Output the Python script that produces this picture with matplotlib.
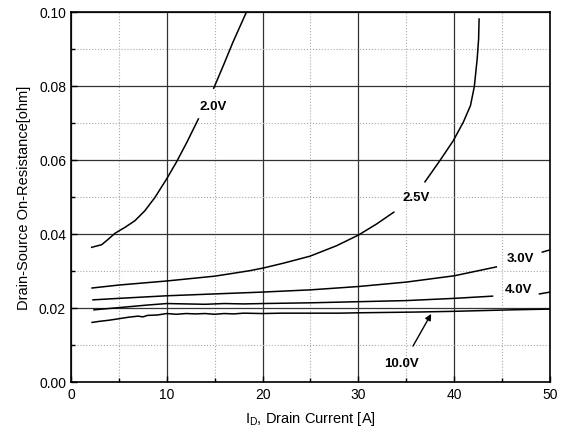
import matplotlib
matplotlib.use("Agg")
import matplotlib.pyplot as plt
from matplotlib.ticker import MultipleLocator, FormatStrFormatter

plt.rcParams['font.family'] = ['Liberation Sans', 'DejaVu Sans']

# 2.0V curve (two segments around the label)
v20_x1 = [2.16, 3.2, 3.9, 4.6, 5.64, 6.68, 7.72, 8.77, 9.99, 11.0, 12.1, 13.3]
v20_y1 = [0.0364, 0.0371, 0.0386, 0.0402, 0.0418, 0.0436, 0.0463, 0.0499, 0.0549, 0.0594, 0.0648, 0.0711]
v20_x2 = [14.9, 15.9, 16.9, 18.3]
v20_y2 = [0.0794, 0.0855, 0.0918, 0.0999]

# 2.5V curve
v25_x1 = [2.2, 5, 10, 15, 17, 18.7, 20.07, 22.16, 24.95, 27.7, 30.0, 31.9, 33.7]
v25_y1 = [0.0254, 0.0262, 0.0273, 0.0286, 0.0294, 0.0301, 0.0308, 0.0321, 0.0340, 0.0368, 0.0397, 0.0427, 0.0459]
v25_x2 = [36.95, 38.5, 39.9, 40.95, 41.7, 42.1, 42.4, 42.55, 42.6]
v25_y2 = [0.0541, 0.0598, 0.0652, 0.0702, 0.0747, 0.0798, 0.0873, 0.0927, 0.0981]

# 3.0V curve
v30_x1 = [2.3, 5, 10, 15, 20, 25, 30, 35, 40, 44.4]
v30_y1 = [0.0222, 0.0226, 0.0233, 0.0238, 0.0243, 0.0249, 0.0258, 0.0270, 0.0287, 0.0311]
v30_x2 = [49.2, 50]
v30_y2 = [0.0351, 0.0357]

# 4.0V curve
v40_x1 = [2.4, 5, 8, 10, 12, 14, 16, 18, 20, 25, 30, 35, 40, 44]
v40_y1 = [0.0195, 0.0201, 0.0208, 0.0212, 0.0211, 0.0210, 0.0212, 0.0211, 0.0212, 0.0214, 0.0217, 0.0220, 0.0226, 0.0232]
v40_x2 = [48.9, 50]
v40_y2 = [0.0238, 0.0243]

# 10.0V curve
v100_x = [2.2, 3, 4, 5, 6, 7, 7.5, 8, 9, 10, 11, 12, 13, 14, 15, 16, 17, 18,
          20, 22, 25, 28, 30, 33, 36, 40, 43, 46, 50]
v100_y = [0.0161, 0.0164, 0.0167, 0.0171, 0.0175, 0.0178, 0.0176, 0.0180, 0.0181, 0.0185,
          0.0183, 0.0185, 0.0184, 0.0185, 0.0183, 0.0185, 0.0184, 0.0186, 0.0185, 0.0186,
          0.0186, 0.0186, 0.0187, 0.0188, 0.0189, 0.0191, 0.0193, 0.0195, 0.0197]

labels = ["2.0V", "2.5V", "3.0V", "4.0V", "10.0V"]
label_x = [14.8, 36.0, 46.9, 46.7, 34.5]
label_y = [0.0747, 0.0500, 0.0334, 0.0251, 0.0051]

fig = plt.figure(figsize=(5.66, 4.39), dpi=100)
ax = fig.add_axes([0.1254, 0.1276, 0.8463, 0.8428])

for xs, ys in [(v20_x1, v20_y1), (v20_x2, v20_y2), (v25_x1, v25_y1), (v25_x2, v25_y2),
               (v30_x1, v30_y1), (v30_x2, v30_y2), (v40_x1, v40_y1), (v40_x2, v40_y2),
               (v100_x, v100_y)]:
    ax.plot(xs, ys, color='black', lw=1.1, zorder=3, solid_joinstyle='round')

for t, lx, ly in zip(labels, label_x, label_y):
    ax.text(lx, ly, t, ha='center', va='center', fontsize=9.5, fontweight='bold', zorder=4)

ax.annotate('', xy=(37.6, 0.0184), xytext=(35.7, 0.0097),
            arrowprops=dict(arrowstyle='-|>', color='black', lw=1.0,
                            mutation_scale=9, shrinkA=0, shrinkB=0), zorder=4)

ax.set_xlim(0, 50)
ax.set_ylim(0, 0.10)
ax.xaxis.set_major_locator(MultipleLocator(10))
ax.xaxis.set_minor_locator(MultipleLocator(5))
ax.yaxis.set_major_locator(MultipleLocator(0.02))
ax.yaxis.set_minor_locator(MultipleLocator(0.01))
ax.yaxis.set_major_formatter(FormatStrFormatter('%.2f'))

ax.grid(which='major', color='#333333', lw=0.9, ls='-', zorder=1)
ax.grid(which='minor', color='#aaaaaa', lw=0.8, ls=':', zorder=1)
ax.set_axisbelow(True)

ax.tick_params(which='both', direction='in', top=False, right=False, labelsize=10, width=1)
ax.tick_params(which='major', length=4)
ax.tick_params(which='minor', length=3)
for s in ax.spines.values():
    s.set_linewidth(1.2)
    s.set_color('black')

ax.set_xlabel(r'$\mathregular{I_D}$, Drain Current [A]', fontsize=10.5, labelpad=6)
ax.set_ylabel('Drain-Source On-Resistance[ohm]', fontsize=10.5, labelpad=6)

fig.savefig('out.png', dpi=100)
